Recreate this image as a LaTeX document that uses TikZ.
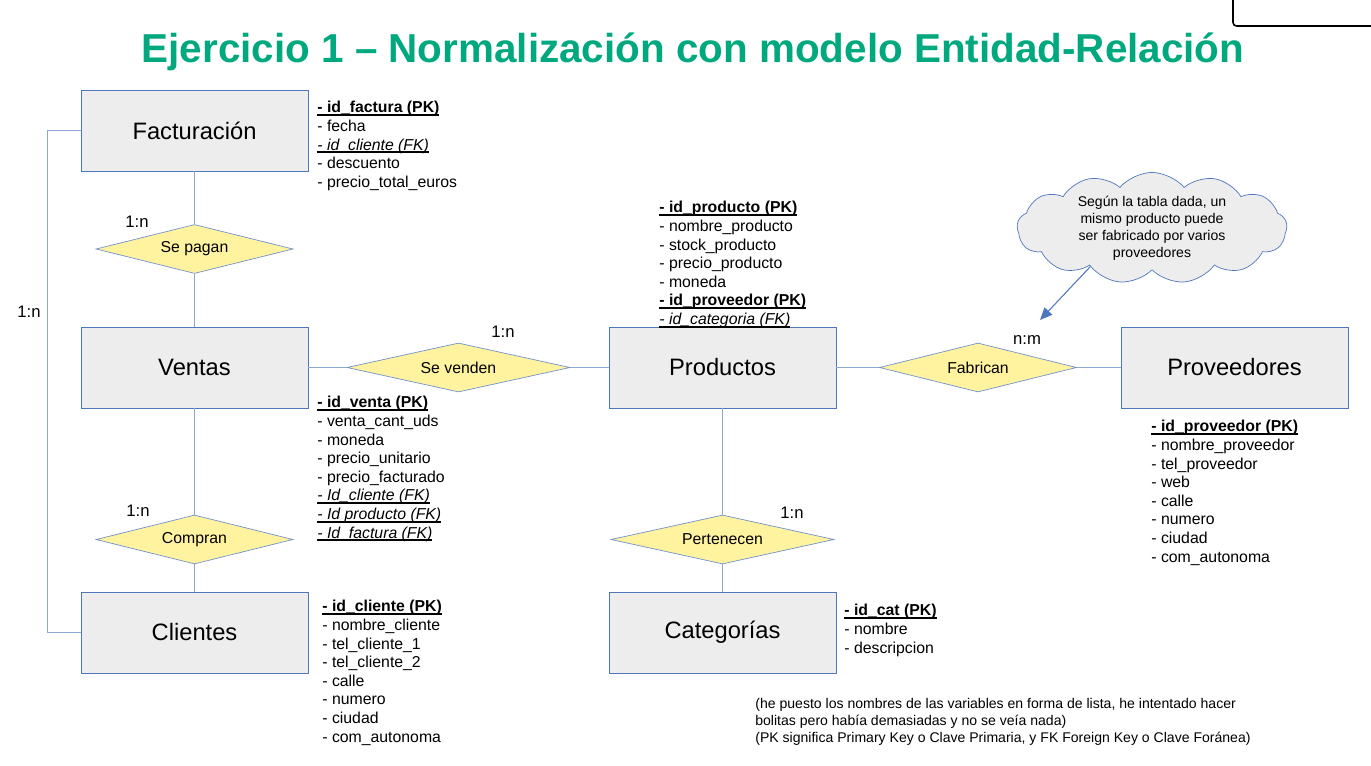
\documentclass[tikz,border=0pt]{standalone}
\usepackage{fontspec}
\setmainfont{Liberation Sans}
\usetikzlibrary{positioning,shapes.geometric,shapes.symbols,arrows.meta}
\definecolor{titlegreen}{HTML}{00A87E}
\definecolor{boxgrey}{HTML}{EDEDED}
\definecolor{boxblue}{HTML}{4F77BE}
\definecolor{linkblue}{HTML}{8EA8D4}
\definecolor{relyellow}{HTML}{FFF3A0}
\newcommand{\keyline}[1]{\setbox0\hbox{#1}\rlap{\rule[-1.7pt]{\wd0}{1.1pt}}\box0}
\newcommand{\pk}[1]{\keyline{\textbf{#1}}}
\newcommand{\fk}[1]{\keyline{\textit{#1}}}

\begin{document}
\begin{tikzpicture}[x=0.02cm, y=-0.02cm,
        entity/.style={draw=boxblue, fill=boxgrey, minimum width=4.54cm, minimum height=1.62cm, inner sep=0pt, font=\fontsize{13.5}{16}\selectfont},
        rel/.style={diamond, draw=boxblue!80, fill=relyellow, aspect=4, minimum width=3.94cm, minimum height=0.98cm, inner sep=0pt, font=\fontsize{9}{11}\selectfont},
        attrs/.style={anchor=north west, align=left, inner sep=0pt, font=\fontsize{9}{10.6}\selectfont},
        card/.style={inner sep=0pt, font=\fontsize{9.5}{11}\selectfont},
        link/.style={draw=linkblue, line width=0.9pt}]
        \useasboundingbox (0,0) rectangle (1371,766);

        \node (title) at (693,52) [text=titlegreen, font=\fontsize{23}{28}\selectfont\bfseries] {Ejercicio 1 – Normalización con modelo Entidad-Relación};

        % entidades
        \node (fact) at (194.5,130.5) [entity] {Facturación};
        \node (vent) at (194.5,367.5) [entity] {Ventas};
        \node (cli) at (194.5,632.5) [entity] {Clientes};
        \node (prod) at (722.5,367.5) [entity] {Productos};
        \node (cat) at (722.5,632.5) [entity] {Categorías};
        \node (prov) at (1234.5,367.5) [entity] {Proveedores};

        % relaciones
        \node (pagan) at (194.5,249) [rel] {Se pagan};
        \node (venden) at (458.5,367.5) [rel, minimum width=4.46cm] {Se venden};
        \node (fabrican) at (978,367.5) [rel] {Fabrican};
        \node (compran) at (194.5,539.5) [rel] {Compran};
        \node (pertenecen) at (722.5,539.5) [rel, minimum width=4.46cm] {Pertenecen};

        \draw[link] (fact) -- (pagan);
        \draw[link] (pagan) -- (vent);
        \draw[link] (vent) -- (venden);
        \draw[link] (venden) -- (prod);
        \draw[link] (prod) -- (fabrican);
        \draw[link] (fabrican) -- (prov);
        \draw[link] (vent) -- (compran);
        \draw[link] (compran) -- (cli);
        \draw[link] (prod) -- (pertenecen);
        \draw[link] (pertenecen) -- (cat);
        \draw[link] (fact.west) -- ++(-33,0) |- (cli.west);

        % cardinalidades
        \node (cpagan) at (137,222) [card] {1:n};
        \node (cloop) at (29,312) [card] {1:n};
        \node (cvenden) at (503,332) [card] {1:n};
        \node (cfabrican) at (1027,340) [card] {n:m};
        \node (ccompran) at (138,511) [card] {1:n};
        \node (cpertenecen) at (792,513) [card] {1:n};

        % atributos
        \node (factattr) at (317,101) [attrs] {\pk{- id\_factura (PK)}\\- fecha\\\fk{- id\_cliente (FK)}\\- descuento\\- precio\_total\_euros};
        \node (prodattr) at (659,201) [attrs] {\pk{- id\_producto (PK)}\\- nombre\_producto\\- stock\_producto\\- precio\_producto\\- moneda\\\pk{- id\_proveedor (PK)}\\\fk{- id\_categoria (FK)}};
        \node (ventattr) at (317,396) [attrs] {\pk{- id\_venta (PK)}\\- venta\_cant\_uds\\- moneda\\- precio\_unitario\\- precio\_facturado\\\fk{- Id\_cliente (FK)}\\\fk{- Id producto (FK)}\\\fk{- Id\_factura (FK)}};
        \node (provattr) at (1151,420) [attrs] {\pk{- id\_proveedor (PK)}\\- nombre\_proveedor\\- tel\_proveedor\\- web\\- calle\\- numero\\- ciudad\\- com\_autonoma};
        \node (cliattr) at (322,600) [attrs] {\pk{- id\_cliente (PK)}\\- nombre\_cliente\\- tel\_cliente\_1\\- tel\_cliente\_2\\- calle\\- numero\\- ciudad\\- com\_autonoma};
        \node (catattr) at (844,604) [attrs] {\pk{- id\_cat (PK)}\\- nombre\\- descripcion};

        % nota
        \node (nota) at (1152,228) [cloud, cloud puffs=13, cloud puff arc=100, cloud ignores aspect, draw=boxblue, fill=boxgrey, minimum width=5.4cm, minimum height=2.15cm, inner sep=0pt, align=center, font=\fontsize{8}{9.6}\selectfont] {Según la tabla dada, un\\mismo producto puede\\ser fabricado por varios\\proveedores};
        \coordinate (notaend) at (1040,320);
        \draw[-{Triangle[length=7pt,width=6pt]}, boxblue, line width=0.6pt] (nota.212) -- (notaend);

        \node (obs) at (755,698) [anchor=north west, align=left, inner sep=0pt, font=\fontsize{8}{9.6}\selectfont] {(he puesto los nombres de las variables en forma de lista, he intentado hacer\\bolitas pero había demasiadas y no se veía nada)\\(PK significa Primary Key o Clave Primaria, y FK Foreign Key o Clave Foránea)};

        \draw[line width=0.9pt, rounded corners=2pt] (1233,0) -- (1233,26) -- (1371,26);
    \end{tikzpicture}
\end{document}
